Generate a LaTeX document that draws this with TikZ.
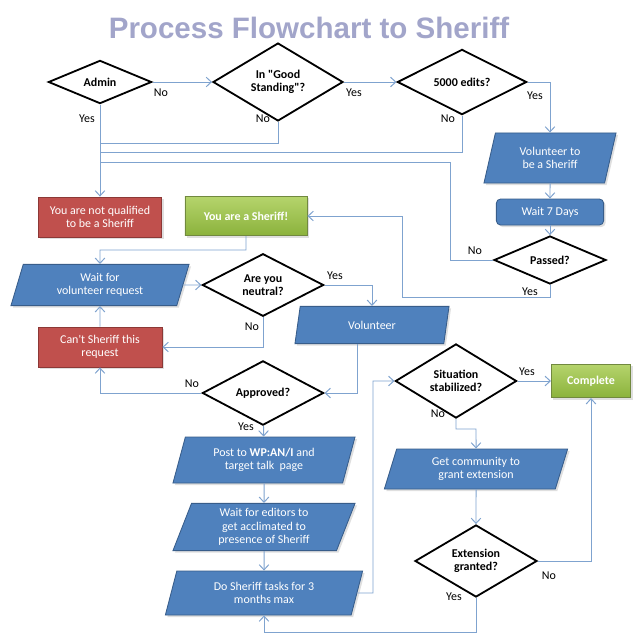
\documentclass[tikz,border=0pt]{standalone}
\usepackage{fontspec}
\setmainfont{Carlito}[Ligatures=TeXOff]
\newfontfamily\titlefont{Liberation Sans}
\usepackage{tikz}
\usetikzlibrary{arrows.meta,shapes.geometric,shadows,positioning}
\definecolor{ink}{HTML}{000000}
\definecolor{titlegray}{HTML}{A2A5CA}
\definecolor{boxblue}{HTML}{4F81BD}
\definecolor{boxblueline}{HTML}{385D8A}
\definecolor{boxred}{HTML}{C0504D}
\definecolor{boxredline}{HTML}{8C3836}
\definecolor{greentop}{HTML}{B5D46C}
\definecolor{greenbot}{HTML}{8BB23C}
\definecolor{boxgreenline}{HTML}{71893F}
\definecolor{wire}{HTML}{7FA3CF}

\begin{document}
\begin{tikzpicture}[x=0.025cm,y=-0.025cm,
  every node/.style={font=\fontsize{8.5}{9.5}\selectfont,align=center,inner sep=1pt},
  soft/.style={drop shadow={opacity=0.25,shadow xshift=0.5mm,shadow yshift=-0.5mm}},
  query/.style={diamond,draw=ink,line width=1.3pt,fill=white,inner sep=0pt,aspect=1,
    font=\fontsize{8.5}{9.5}\selectfont\bfseries},
  slanted/.style={trapezium,trapezium left angle=65,trapezium right angle=115,
    trapezium stretches body,draw=boxblueline,fill=boxblue,text=white,line width=0.6pt,soft},
  redbox/.style={rectangle,draw=boxredline,fill=boxred,text=white,line width=0.6pt,soft},
  greenbox/.style={rectangle,draw=boxgreenline,top color=greentop,bottom color=greenbot,
    text=white,line width=0.6pt,soft,font=\fontsize{8.5}{9.5}\selectfont\bfseries},
  bluebox/.style={rectangle,rounded corners=3pt,draw=boxblueline,fill=boxblue,text=white,
    line width=0.6pt,soft},
  link/.style={draw=wire,line width=0.7pt,-{Straight Barb[length=1.3mm,width=2.4mm]}},
  wire/.style={draw=wire,line width=0.7pt}
]
  \fill[white] (0,0) rectangle (640,640);
  \useasboundingbox (0,0) rectangle (640,640);

  \node[font=\titlefont\fontsize{21}{23}\selectfont\bfseries,text=titlegray] (title) at (309,28)
    {Process Flowchart to Sheriff};

  % first row of checks
  \node[query,minimum width=2.58cm,minimum height=1.08cm] (admin) at (100,82) {Admin};
  \node[query,minimum width=3.25cm,minimum height=1.38cm] (good) at (278,82) {In "Good\\Standing"?};
  \node[query,minimum width=3.23cm,minimum height=1.23cm] (edits) at (462,82) {5000 edits?};

  % right column
  \node[slanted,minimum width=3.3cm,minimum height=1.25cm] (volsheriff) at (550,158) {Volunteer to\\be a Sheriff};
  \node[bluebox,minimum width=2.68cm,minimum height=0.65cm] (wait7) at (550,212) {Wait 7 Days};
  \node[query,minimum width=2.8cm,minimum height=0.98cm] (passed) at (550,260) {Passed?};

  % left column
  \node[redbox,minimum width=3.08cm,minimum height=1.0cm] (notqual) at (100,217) {You are not qualified\\to be a Sheriff};
  \node[greenbox,minimum width=3.05cm,minimum height=0.98cm] (sheriff) at (246,216) {You are a Sheriff!};
  \node[slanted,minimum width=4.45cm,minimum height=1.03cm] (waitreq) at (100,285) {Wait for\\volunteer request};
  \node[query,minimum width=3.03cm,minimum height=1.43cm] (neutral) at (263,285) {Are you\\neutral?};
  \node[slanted,minimum width=3.85cm,minimum height=0.93cm] (volunteer) at (372,325) {Volunteer};
  \node[redbox,minimum width=3.1cm,minimum height=1.0cm] (cant) at (100,347) {Can't Sheriff this\\request};
  \node[query,minimum width=3.03cm,minimum height=1.4cm] (approved) at (263,393) {Approved?};

  % middle column
  \node[slanted,minimum width=4.55cm,minimum height=1.15cm] (post) at (264,460) {Post to \textbf{WP:AN/I} and\\target talk~~page};
  \node[slanted,minimum width=4.55cm,minimum height=1.18cm] (editors) at (264,527) {Wait for editors to\\get acclimated to\\presence of Sheriff};
  \node[slanted,minimum width=4.93cm,minimum height=1.1cm] (tasks) at (264,593) {Do Sheriff tasks for 3\\months max};

  % lower right
  \node[query,minimum width=3.03cm,minimum height=1.4cm] (stable) at (456,381) {Situation\\stabilized?};
  \node[greenbox,minimum width=1.98cm,minimum height=0.83cm] (complete) at (591,381) {Complete};
  \node[slanted,minimum width=4.58cm,minimum height=1.0cm] (community) at (476,469) {Get community to\\grant extension};
  \node[query,minimum width=3.05cm,minimum height=1.4cm] (extension) at (476,561) {Extension\\granted?};

  % bends
  \coordinate (j1) at (100,143);
  \coordinate (j2) at (100,152);
  \coordinate (j3) at (100,162);
  \coordinate (p1) at (450,162);
  \coordinate (q1) at (402,297);
  \coordinate (r1) at (100,250);
  \coordinate (s1) at (357,393);
  \coordinate (t1) at (373,593);
  \coordinate (u1) at (476,429);
  \coordinate (v1) at (476,632);

  \draw[link] (admin) -- (good);
  \draw[link] (good) -- (edits);
  \draw[link] (edits.east) -| (volsheriff.north);
  \draw[link] (volsheriff) -- (wait7);
  \draw[link] (wait7) -- (passed);
  \draw[link] (admin) -- (notqual);
  \draw[wire] (good.south) |- (j1);
  \draw[wire] (edits.south) |- (j2);
  \draw[wire] (passed.west) -| (p1) -- (j3);
  \draw[link] (passed.south) |- (q1) |- (sheriff.east);
  \draw[link] (sheriff.south) |- (r1) -- (waitreq.north);
  \draw[link] (waitreq.east) -- (neutral.west);
  \draw[link] (neutral.east) -| (volunteer.north);
  \draw[link] (neutral.south) |- (cant.east);
  \draw[link] (cant) -- (waitreq);
  \draw[link] (volunteer.south -| s1) -- (s1) -- (approved.east);
  \draw[link] (approved.west) -| (cant.south);
  \draw[link] (approved) -- (post);
  \draw[link] (post) -- (editors);
  \draw[link] (editors) -- (tasks);
  \draw[link] (tasks.east) -- (t1) |- (stable.west);
  \draw[link] (stable) -- (complete);
  \draw[link] (stable.south) |- (u1) -- (community.north);
  \draw[link] (community) -- (extension);
  \draw[link] (extension.east) -| (complete.south);
  \draw[link] (extension.south) -- (v1) -| (tasks.south);

  % answers
  \node (no1) at (161,93) {No};
  \node (yes1) at (87,119) {Yes};
  \node (yes2) at (354,93) {Yes};
  \node (no2) at (263,119) {No};
  \node (yes3) at (535,96) {Yes};
  \node (no3) at (448,119) {No};
  \node (no4) at (475,251) {No};
  \node (yes4) at (530,292) {Yes};
  \node (yes5) at (335,276) {Yes};
  \node (no5) at (252,327) {No};
  \node (no6) at (192,384) {No};
  \node (yes6) at (246,427) {Yes};
  \node (yes7) at (527,372) {Yes};
  \node (no7) at (438,414) {No};
  \node (no8) at (549,576) {No};
  \node (yes8) at (454,597) {Yes};
\end{tikzpicture}
\end{document}
